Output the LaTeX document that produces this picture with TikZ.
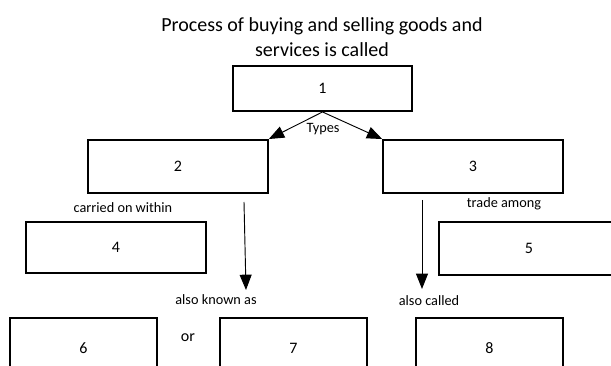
\documentclass[tikz,border=0pt]{standalone}
\usepackage{fontspec}
\setmainfont{Carlito}
\usetikzlibrary{arrows.meta,positioning}

\begin{document}
\begin{tikzpicture}[x=0.75pt, y=-0.75pt, >={Triangle[length=11.5pt,width=9pt]},
		numbox/.style={draw, line width=1.2pt, inner sep=0pt, font=\fontsize{12}{14}\selectfont},
		smalltext/.style={inner sep=0pt, font=\fontsize{10.7}{13}\selectfont},
		typeLine/.style={line width=0.7pt, ->},
		]
		\useasboundingbox (0,0) rectangle (611,366);
		\clip (0,0) rectangle (611,366);
		
		\node[align=center, font=\fontsize{15}{18.5}\selectfont] (title) at (322,37) {Process of buying and selling goods and\\services is called};
		
		\node[numbox, minimum width=134pt, minimum height=34pt] (n1) at (322.5,88.5) {1};
		\node[numbox, minimum width=135pt, minimum height=40pt] (n2) at (178,166.5) {2};
		\node[numbox, minimum width=135pt, minimum height=40pt] (n3) at (473,166.5) {3};
		\node[numbox, minimum width=135pt, minimum height=38pt] (n4) at (116,247.5) {4};
		\node[numbox, minimum width=135pt, minimum height=39.5pt] (n5) at (529,248.5) {5};
		\node[numbox, minimum width=110pt, minimum height=45pt] (n6) at (83.5,348) {6};
		\node[numbox, minimum width=110pt, minimum height=45pt] (n7) at (293.5,348) {7};
		\node[numbox, minimum width=110pt, minimum height=45pt] (n8) at (489.5,348) {8};
		
		\node[smalltext] (types) at (323,129) {Types};
		\node[smalltext] (within) at (123,208) {carried on within};
		\node[smalltext] (among) at (504,204) {trade among};
		\node[smalltext] (known) at (216,300) {also known as};
		\node[smalltext] (called) at (429,301) {also called};
		\node[font=\fontsize{12}{14}\selectfont, inner sep=0pt] (or) at (188,338) {or};
		
		\coordinate (ktop) at (244,202);
		\coordinate (kend) at (246,290);
		\coordinate (ctop) at (422,200);
		\coordinate (cend) at (422,289);
		
		\draw [typeLine] (n1.south) to (n2.north east);
		\draw [typeLine] (n1.south) to (n3.north west);
		
		\draw [typeLine] (ktop) to (kend);
		\draw [typeLine] (ctop) to (cend);
		
\end{tikzpicture}
\end{document}
